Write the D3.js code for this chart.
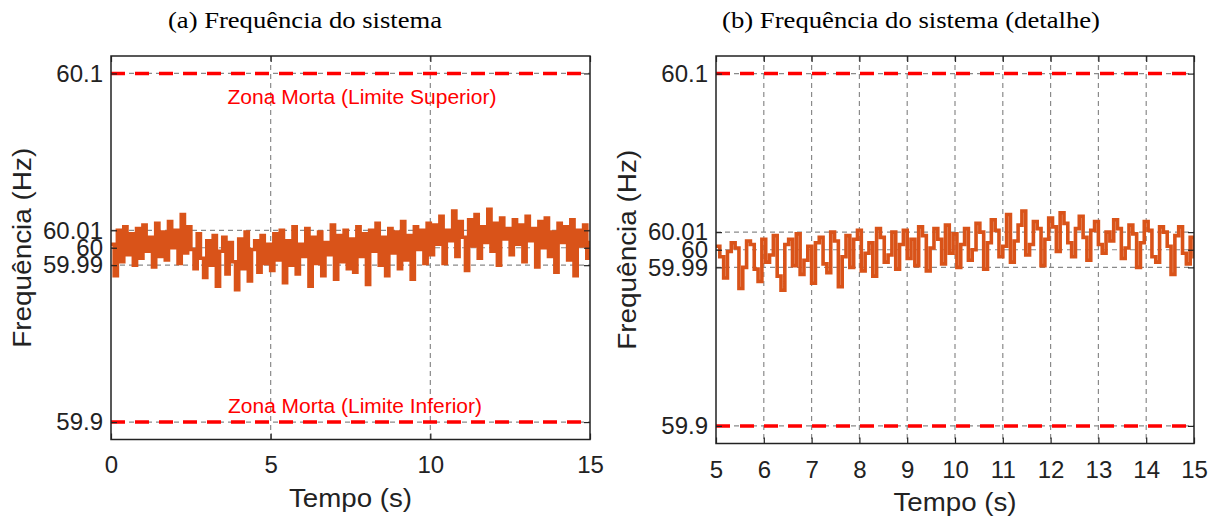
<!DOCTYPE html>
<html>
<head>
<meta charset="utf-8">
<script src="https://cdn.jsdelivr.net/npm/d3@7"></script>
<style>
  html, body { margin: 0; padding: 0; background: #fff; }
  svg { display: block; }
</style>
</head>
<body>
<svg id="chart" width="1219" height="517"></svg>
<script>
// ---------------- DATA ----------------
const titles = ["(a) Frequência do sistema", "(b) Frequência do sistema (detalhe)"];
const xLabel = "Tempo (s)";
const yLabel = "Frequência (Hz)";
const yTicks = [59.9, 59.99, 60, 60.01, 60.1];
const yTickLabels = ["59.9", "59.99", "60", "60.01", "60.1"];
const xTicksA = [0, 5, 10, 15];
const xTicksB = [5, 6, 7, 8, 9, 10, 11, 12, 13, 14, 15];
const upperLimit = 60.1;
const lowerLimit = 59.9;
const upperLabel = "Zona Morta (Limite Superior)";
const lowerLabel = "Zona Morta (Limite Inferior)";

// panel (a): 0–15 s, one sample every 0.1 s
const startA = 0;
const stepA = 0.1;
const frequencyA = [
  60.002, 59.984, 60.010, 59.992, 60.012, 59.996, 60.008, 59.990, 60.011, 59.994,
  60.013, 59.998, 60.006, 59.989, 60.014, 59.995, 60.009, 59.993, 60.015, 60.000,
  60.010, 59.991, 60.019, 59.997, 60.012,
  59.999, 59.988, 60.008, 59.994, 59.983, 60.004, 59.990, 60.007, 59.978, 59.998,
  60.006, 59.985, 60.003, 59.992, 59.976, 60.005, 59.988, 60.009, 59.981, 59.999,
  60.004, 59.986, 60.007, 59.991, 60.002,
  59.987, 60.008, 59.993, 60.010, 59.980, 60.004, 59.990, 60.012, 59.985, 60.002,
  59.995, 60.011, 59.978, 60.006, 59.991, 60.009, 59.984, 60.003, 59.996, 60.013,
  59.982, 60.007, 59.992, 60.010, 59.988,
  60.005, 59.986, 60.012, 59.995, 60.008, 59.979, 60.010, 59.998, 60.014, 59.990,
  60.006, 59.984, 60.011, 59.997, 60.009, 59.988, 60.015, 59.993, 60.007, 59.982,
  60.012, 59.999, 60.010, 59.991, 60.014,
  59.996, 60.013, 60.002, 60.018, 59.991, 60.010, 60.004, 60.021, 59.995, 60.015,
  60.006, 59.987, 60.016, 60.001, 60.019, 59.994, 60.012, 60.003, 60.022, 59.998,
  60.014, 59.990, 60.017, 60.005, 60.011,
  59.996, 60.016, 60.002, 60.013, 59.992, 60.018, 60.004, 60.011, 59.989, 60.015,
  60.000, 60.017, 59.995, 60.009, 59.986, 60.014, 60.003, 60.012, 59.993, 60.016,
  59.984, 60.010, 60.001, 60.013, 59.994,
  60.004
];

// panel (b): 5–15 s detail, one sample every 0.08 s
const startB = 5;
const stepB = 0.08;
const frequencyB = [
  60.002, 59.996, 59.984, 59.999, 60.004, 60.001, 59.978, 59.990, 60.005, 60.003, 59.989, 59.982, 60.006,
  59.993, 59.997, 60.008, 59.985, 59.977, 60.003, 60.006, 59.991, 60.009, 59.986, 59.994, 60.002, 59.981,
  60.004, 60.007, 59.992, 59.987, 60.010, 60.005, 59.979, 59.996, 60.008, 59.990, 60.006, 60.011, 59.988,
  59.998, 60.004, 59.985, 60.012, 60.007, 59.993, 59.997, 60.010, 59.989, 60.003, 60.011, 59.995, 60.006,
  59.991, 60.013, 60.008, 59.988, 60.001, 60.012, 60.006, 59.992, 60.014, 59.998, 60.009, 59.990, 60.003,
  60.012, 59.994, 60.000, 60.015, 60.010, 59.989, 60.004, 60.017, 60.011, 59.996, 60.002, 60.020, 59.993,
  60.005, 60.014, 60.022, 59.997, 60.003, 60.016, 60.012, 59.991, 60.006, 60.018, 60.013, 59.999, 60.021,
  60.015, 60.004, 59.996, 60.012, 60.019, 60.007, 59.994, 60.011, 60.016, 60.003, 59.998, 60.010, 60.005,
  60.017, 60.012, 59.995, 60.001, 60.014, 60.009, 59.990, 60.004, 60.016, 60.011, 59.996, 59.993, 60.013,
  60.010, 60.002, 59.986, 60.008, 60.013, 59.998, 59.992, 60.007, 59.995
];

// ---------------- DRAW ----------------
const svg = d3.select("#chart");
const toSeries = (arr, start, step) => arr.map((f, i) => ({ t: +(start + i * step).toFixed(3), f }));

const panels = [
  { title: titles[0], titleX: 305, titleW: 274, xDomain: [0, 15], xTicks: xTicksA,
    series: toSeries(frequencyA, startA, stepA),
    left: 111, right: 590, top: 56, bottom: 439.5, ylabX: 22, showZona: true, tickY: 16 },
  { title: titles[1], titleX: 911, titleW: 378, xDomain: [5, 15], xTicks: xTicksB,
    series: toSeries(frequencyB, startB, stepB),
    left: 716, right: 1194, top: 56, bottom: 443.5, ylabX: 627, showZona: false, tickY: 17 }
];

const sansFont = "'Liberation Sans', Arial, Helvetica, sans-serif";
const serifFont = "'Liberation Serif', 'Times New Roman', serif";
const gridColor = "#8a8a8a";

panels.forEach((p, idx) => {
  const x = d3.scaleLinear().domain(p.xDomain).range([p.left, p.right]);
  const y = d3.scaleLinear().domain([59.89, 60.11]).range([p.bottom, p.top]);
  const g = svg.append("g");
  const clipId = "clip" + idx;
  svg.append("clipPath").attr("id", clipId)
    .append("rect").attr("x", p.left).attr("y", p.top)
    .attr("width", p.right - p.left).attr("height", p.bottom - p.top);

  // grid lines
  const innerX = p.xTicks.filter(v => v > p.xDomain[0] && v < p.xDomain[1]);
  g.append("g").selectAll("line").data(innerX).join("line")
    .attr("x1", d => x(d)).attr("x2", d => x(d))
    .attr("y1", p.top).attr("y2", p.bottom)
    .attr("stroke", gridColor).attr("stroke-width", 1.2)
    .attr("stroke-dasharray", "5,4");
  g.append("g").selectAll("line").data(yTicks).join("line")
    .attr("x1", p.left).attr("x2", p.right)
    .attr("y1", d => y(d)).attr("y2", d => y(d))
    .attr("stroke", gridColor).attr("stroke-width", 1.2)
    .attr("stroke-dasharray", "5,4");

  // dead-band limits
  g.append("g").selectAll("line").data([upperLimit, lowerLimit]).join("line")
    .attr("x1", p.left).attr("x2", p.right)
    .attr("y1", d => y(d)).attr("y2", d => y(d))
    .attr("stroke", "#ff0000").attr("stroke-width", 3.5)
    .attr("stroke-dasharray", "14,10");

  // signal
  const line = d3.line().x(d => x(d.t)).y(d => y(d.f)).curve(d3.curveStepAfter);
  g.append("path")
    .datum(p.series.filter(d => d.t >= p.xDomain[0] - 1e-9 && d.t <= p.xDomain[1] + 1e-9))
    .attr("clip-path", `url(#${clipId})`)
    .attr("d", line)
    .attr("fill", "none").attr("stroke", "#D95319")
    .attr("stroke-width", 3.6).attr("stroke-linejoin", "miter");

  // axes (inward ticks on all sides)
  const fmt = d => yTickLabels[yTicks.indexOf(d)];
  const axL = g.append("g").attr("transform", `translate(${p.left},0)`)
    .call(d3.axisLeft(y).tickValues(yTicks).tickFormat(fmt).tickSizeInner(-6).tickSizeOuter(0).tickPadding(8));
  const axR = g.append("g").attr("transform", `translate(${p.right},0)`)
    .call(d3.axisRight(y).tickValues(yTicks).tickFormat("").tickSizeInner(-6).tickSizeOuter(0));
  const axB = g.append("g").attr("transform", `translate(0,${p.bottom})`)
    .call(d3.axisBottom(x).tickValues(p.xTicks).tickFormat(d3.format("d")).tickSizeInner(-6).tickSizeOuter(0).tickPadding(p.tickY));
  const axT = g.append("g").attr("transform", `translate(0,${p.top})`)
    .call(d3.axisTop(x).tickValues(p.xTicks).tickFormat("").tickSizeInner(-6).tickSizeOuter(0));
  [axL, axR, axB, axT].forEach(a => {
    a.select(".domain").remove();
    a.selectAll("line").attr("stroke", "#222").attr("stroke-width", 1.2);
    a.selectAll("text").attr("font-family", sansFont).attr("font-size", 24).attr("fill", "#222");
  });

  // box
  g.append("rect").attr("x", p.left).attr("y", p.top)
    .attr("width", p.right - p.left).attr("height", p.bottom - p.top)
    .attr("fill", "none").attr("stroke", "#222").attr("stroke-width", 1.5);

  // texts
  g.append("text").attr("x", p.titleX).attr("y", 28).attr("text-anchor", "middle")
    .attr("font-family", serifFont).attr("font-size", 24).attr("fill", "#000")
    .attr("textLength", p.titleW).attr("lengthAdjust", "spacingAndGlyphs").text(p.title);
  g.append("text").attr("x", (p.left + p.right) / 2).attr("y", p.bottom + 67)
    .attr("text-anchor", "middle").attr("font-family", sansFont).attr("font-size", 26)
    .attr("fill", "#222").attr("textLength", 123).attr("lengthAdjust", "spacingAndGlyphs").text(xLabel);
  g.append("text").attr("transform", `translate(${p.ylabX + 9},${(p.top + p.bottom) / 2}) rotate(-90)`)
    .attr("text-anchor", "middle").attr("font-family", sansFont).attr("font-size", 26)
    .attr("fill", "#222").attr("textLength", 200).attr("lengthAdjust", "spacingAndGlyphs").text(yLabel);

  if (p.showZona) {
    g.append("text").attr("x", 362).attr("y", y(upperLimit) + 31).attr("text-anchor", "middle")
      .attr("font-family", sansFont).attr("font-size", 20).attr("fill", "#ff0000")
      .attr("textLength", 269).attr("lengthAdjust", "spacingAndGlyphs").text(upperLabel);
    g.append("text").attr("x", 355).attr("y", y(lowerLimit) - 9).attr("text-anchor", "middle")
      .attr("font-family", sansFont).attr("font-size", 20).attr("fill", "#ff0000")
      .attr("textLength", 254).attr("lengthAdjust", "spacingAndGlyphs").text(lowerLabel);
  }
});
</script>
</body>
</html>
